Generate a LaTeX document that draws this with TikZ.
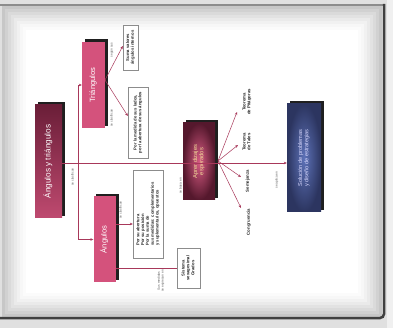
\documentclass[tikz,border=0pt]{standalone}
\usepackage{fontspec}
\setmainfont{Liberation Sans}
\usepackage{graphicx}
\usetikzlibrary{arrows.meta}
\definecolor{pinkbox}{HTML}{D4527C}
\definecolor{maroon}{HTML}{6A1E38}
\definecolor{lineclr}{HTML}{A8385A}
\definecolor{bluein}{HTML}{5D72B8}
\definecolor{blueout}{HTML}{2C3560}
\definecolor{cream}{HTML}{F2DC98}
\pgfdeclarelayer{paper}
\pgfdeclarelayer{shad}
\pgfsetlayers{paper,shad,main}
\newcommand{\rt}[2][c]{\rotatebox{90}{\begin{tabular}{@{}#1@{}}#2\end{tabular}}}
\tikzset{
  boxbase/.style={inner sep=0pt, text=white, font=\fontsize{7.6}{8.2}\selectfont},
  pinkstyle/.style={boxbase, fill=pinkbox},
  txtbox/.style={draw=black!45, line width=0.4pt, fill=white, inner sep=0pt,
     font=\bfseries\fontsize{4.2}{4.8}\selectfont, text=black!85},
  conclbl/.style={font=\bfseries\fontsize{4.3}{4.9}\selectfont, text=black!85, inner sep=0pt},
  lbl/.style={font=\fontsize{3.2}{3.7}\selectfont, text=black!65, inner sep=0pt},
  conn/.style={draw=lineclr, line width=0.5pt},
  arr/.style={conn, -{Stealth[length=3pt,width=2.6pt]}},
  shadowfill/.style={fill=black!88}
}
\begin{document}
\begin{tikzpicture}[x=1pt,y=-1pt]
\useasboundingbox (0,0) rectangle (393,328);
\begin{pgfonlayer}{paper}
% photo background and page with soft vignette
\fill[black!12] (0,0) rectangle (393,328);
\fill[white] (2,6) rectangle (382,317);
\foreach \i/\op in {0/0.55,1/0.45,2/0.36,3/0.28,4/0.2,5/0.13,6/0.08,7/0.04}{
  \draw[black!40, line width=3pt, opacity=\op] (3.5+3*\i,7.5+3*\i) rectangle (380.5-3*\i,315.5-3*\i);
}
\draw[black!45, line width=1.2pt] (0,5) -- (384,5);
\draw[black!75, line width=2.5pt] (384,4) -- (384,314) to[out=-90,in=0] (380,318) -- (0,318);
\fill[black!6] (387,0) rectangle (393,328);
\end{pgfonlayer}

% boxes
\node[boxbase, minimum width=27pt, minimum height=113pt, top color=maroon, bottom color=pinkbox!90!black, font=\fontsize{8.2}{9}\selectfont] (main) at (48.5,161.5) {\rt{Ángulos y triángulos}};
\node[pinkstyle, minimum width=23pt, minimum height=86pt] (tri) at (93.5,85) {\rt{Triángulos}};
\node[pinkstyle, minimum width=22pt, minimum height=86pt] (ang) at (104.5,239.5) {\rt{Ángulos}};
\node[boxbase, text=cream, minimum width=32pt, minimum height=77pt, inner color=pinkbox!95!white, outer color=maroon!80!black, font=\fontsize{5.8}{6.4}\selectfont] (cen) at (199,161.5) {\rt{Aprendizajes\\esperados}};
\node[boxbase, text=white!85!blue, minimum width=34pt, minimum height=108pt, inner color=bluein, outer color=blueout, font=\fontsize{5.6}{6.4}\selectfont] (blue) at (304,158) {\rt{Solución de problemas\\y diseño de estrategias}};

% shadows
\begin{pgfonlayer}{shad}
\foreach \b in {main,tri,ang,cen,blue}{
  \fill[shadowfill] ([xshift=3pt,yshift=2.5pt]\b.south west) rectangle ([xshift=3pt,yshift=2.5pt]\b.north east);
}
\end{pgfonlayer}

% text boxes
\node[txtbox, minimum width=15pt, minimum height=45pt] (suma) at (130.5,47.5) {\rt{Suma valores\\ángulos internos}};
\node[txtbox, minimum width=20pt, minimum height=71pt] (lados) at (138,122.5) {\rt{Por la medida de sus lados,\\por la abertura de sus ángulos}};
\node[txtbox, minimum width=30pt, minimum height=88pt] (clas) at (148,214) {\rt[l]{Por su abertura\\Por su posición\\Por la suma de\\sus medidas: complementarios\\y suplementarios, opuestos}};
\node[txtbox, minimum width=23pt, minimum height=40pt] (mide) at (188.5,268) {\rt{Sistema\\sexagesimal\\Grados}};

% concept labels on the right
\node[conclbl] (pit) at (247,102) {\rt{Teorema\\de Pitágoras}};
\node[conclbl] (tal) at (247,142) {\rt{Teorema\\de Tales}};
\node[conclbl] (sem) at (248,181) {\rt{Semejanza}};
\node[conclbl] (con) at (249,222) {\rt{Congruencia}};

% connectors
\coordinate (J) at (78,163);
\draw[arr] (main.east |- J) -- (blue.west |- J);
\draw[arr] (J) |- (tri.west);
\draw[arr] (J) |- (ang.west);
\coordinate (TF) at (105,80);
\draw[arr] (TF) -- (suma.south west |- 0,46);
\draw[arr] (TF) -- (lados.west |- 0,116);
\draw[arr] (ang.east |- 0,224) -- (clas.west |- 0,224);
\draw[conn] (ang.east |- 0,268) -- (mide.west);
\coordinate (CF) at (218,161);
\draw[arr] (CF) -- (237,112);
\draw[arr] (CF) -- (238,145);
\draw[arr] (CF) -- (241,177);
\draw[arr] (CF) -- (241,208);

% connector labels
\node[lbl] (l1) at (73,177) {\rt{se clasifican}};
\node[lbl] (l2) at (112,50) {\rt{según sus}};
\node[lbl] (l3) at (112,118) {\rt{se clasifican}};
\node[lbl] (l4) at (121,210) {\rt{se clasifican}};
\node[lbl] (l5) at (161,281) {\rt{Sus medidas\\se expresan en}};
\node[lbl] (l6) at (181,186) {\rt{se basa en}};
\node[lbl] (l7) at (277,180) {\rt{se aplica en}};
\end{tikzpicture}
\end{document}
